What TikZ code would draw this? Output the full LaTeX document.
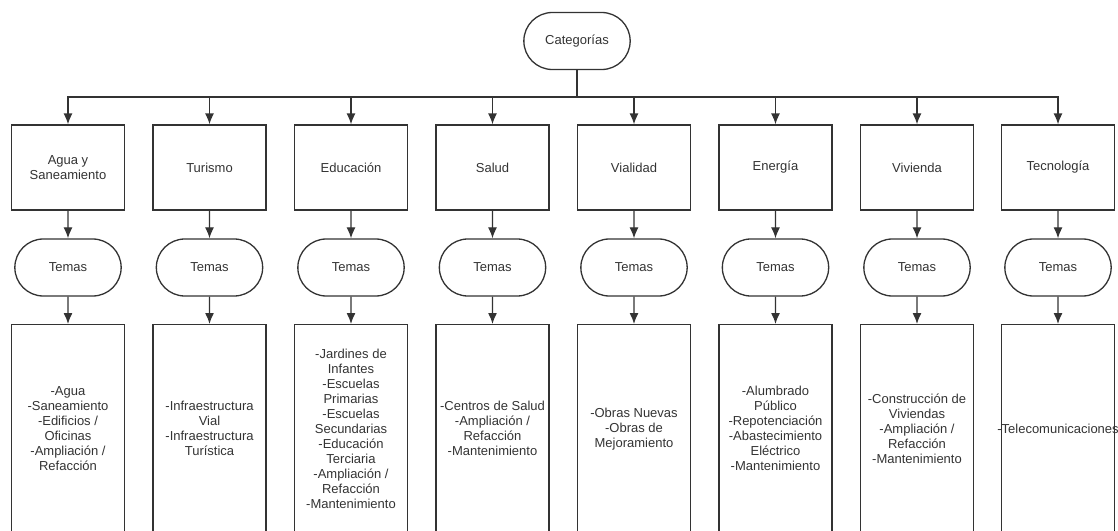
\documentclass[tikz,border=0pt]{standalone}
\usepackage{fontspec}
\setmainfont{Liberation Sans}
\usetikzlibrary{arrows.meta}
\usetikzlibrary{shapes.misc}
\definecolor{trazo}{HTML}{333333}
\tikzset{
  base/.style={draw=trazo, line width=1.3pt, text=trazo, align=center,
    font=\fontsize{13}{15}\selectfont},
  caja/.style={base, minimum width=113pt, minimum height=85pt},
  tema/.style={base, rounded rectangle, minimum width=113pt, minimum height=57pt},
  lista/.style={base, anchor=north, minimum width=113pt, minimum height=208pt},
  flecha/.style={draw=trazo, line width=1.3pt, -{Latex[length=11pt, width=9pt]}}
}

\begin{document}
\begin{tikzpicture}[x=1pt, y=-1pt]
    \useasboundingbox (0,0) rectangle (1118,530);
    \clip (0,0) rectangle (1118,530);
    \node [tema] (cat) at (577,41) {Categorías};
    \coordinate (bus) at (577,97);
    % categorias
    \node [caja] (agua) at (68,167.5) {Agua y\\Saneamiento};
    \node [caja] (tur) at (209.5,167.5) {Turismo};
    \node [caja] (edu) at (351,167.5) {Educación};
    \node [caja] (sal) at (492.5,167.5) {Salud};
    \node [caja] (via) at (634,167.5) {Vialidad};
    \node [caja] (ene) at (775.5,167.5) {Energía};
    \node [caja] (viv) at (917,167.5) {Vivienda};
    \node [caja] (tec) at (1058,167.5) {Tecnología};
    % temas
    \node [tema] (aguaT) at (68,267.5) {Temas};
    \node [tema] (turT) at (209.5,267.5) {Temas};
    \node [tema] (eduT) at (351,267.5) {Temas};
    \node [tema] (salT) at (492.5,267.5) {Temas};
    \node [tema] (viaT) at (634,267.5) {Temas};
    \node [tema] (eneT) at (775.5,267.5) {Temas};
    \node [tema] (vivT) at (917,267.5) {Temas};
    \node [tema] (tecT) at (1058,267.5) {Temas};
    % listas
    \node [lista] (aguaL) at (68,324) {-Agua\\-Saneamiento\\-Edificios /\\Oficinas\\-Ampliación /\\Refacción};
    \node [lista] (turL) at (209.5,324) {-Infraestructura\\Vial\\-Infraestructura\\Turística};
    \node [lista] (eduL) at (351,324) {-Jardines de\\Infantes\\-Escuelas\\Primarias\\-Escuelas\\Secundarias\\-Educación\\Terciaria\\-Ampliación /\\Refacción\\-Mantenimiento};
    \node [lista] (salL) at (492.5,324) {-Centros de Salud\\-Ampliación /\\Refacción\\-Mantenimiento};
    \node [lista] (viaL) at (634,324) {-Obras Nuevas\\-Obras de\\Mejoramiento};
    \node [lista] (eneL) at (775.5,324) {-Alumbrado\\Público\\-Repotenciación\\-Abastecimiento\\Eléctrico\\-Mantenimiento};
    \node [lista] (vivL) at (917,324) {-Construcción de\\Viviendas\\-Ampliación /\\Refacción\\-Mantenimiento};
    \node [lista] (tecL) at (1058,324) {\makebox[0pt]{-Telecomunicaciones}};
    % conectores
    \draw [flecha] (cat.south) -- (bus) -| (agua.north);
    \draw [flecha] (cat.south) -- (bus) -| (tur.north);
    \draw [flecha] (cat.south) -- (bus) -| (edu.north);
    \draw [flecha] (cat.south) -- (bus) -| (sal.north);
    \draw [flecha] (cat.south) -- (bus) -| (via.north);
    \draw [flecha] (cat.south) -- (bus) -| (ene.north);
    \draw [flecha] (cat.south) -- (bus) -| (viv.north);
    \draw [flecha] (cat.south) -- (bus) -| (tec.north);
    \draw [flecha] (agua) -- (aguaT);
    \draw [flecha] (tur) -- (turT);
    \draw [flecha] (edu) -- (eduT);
    \draw [flecha] (sal) -- (salT);
    \draw [flecha] (via) -- (viaT);
    \draw [flecha] (ene) -- (eneT);
    \draw [flecha] (viv) -- (vivT);
    \draw [flecha] (tec) -- (tecT);
    \draw [flecha] (aguaT) -- (aguaL);
    \draw [flecha] (turT) -- (turL);
    \draw [flecha] (eduT) -- (eduL);
    \draw [flecha] (salT) -- (salL);
    \draw [flecha] (viaT) -- (viaL);
    \draw [flecha] (eneT) -- (eneL);
    \draw [flecha] (vivT) -- (vivL);
    \draw [flecha] (tecT) -- (tecL);
\end{tikzpicture}
\end{document}
